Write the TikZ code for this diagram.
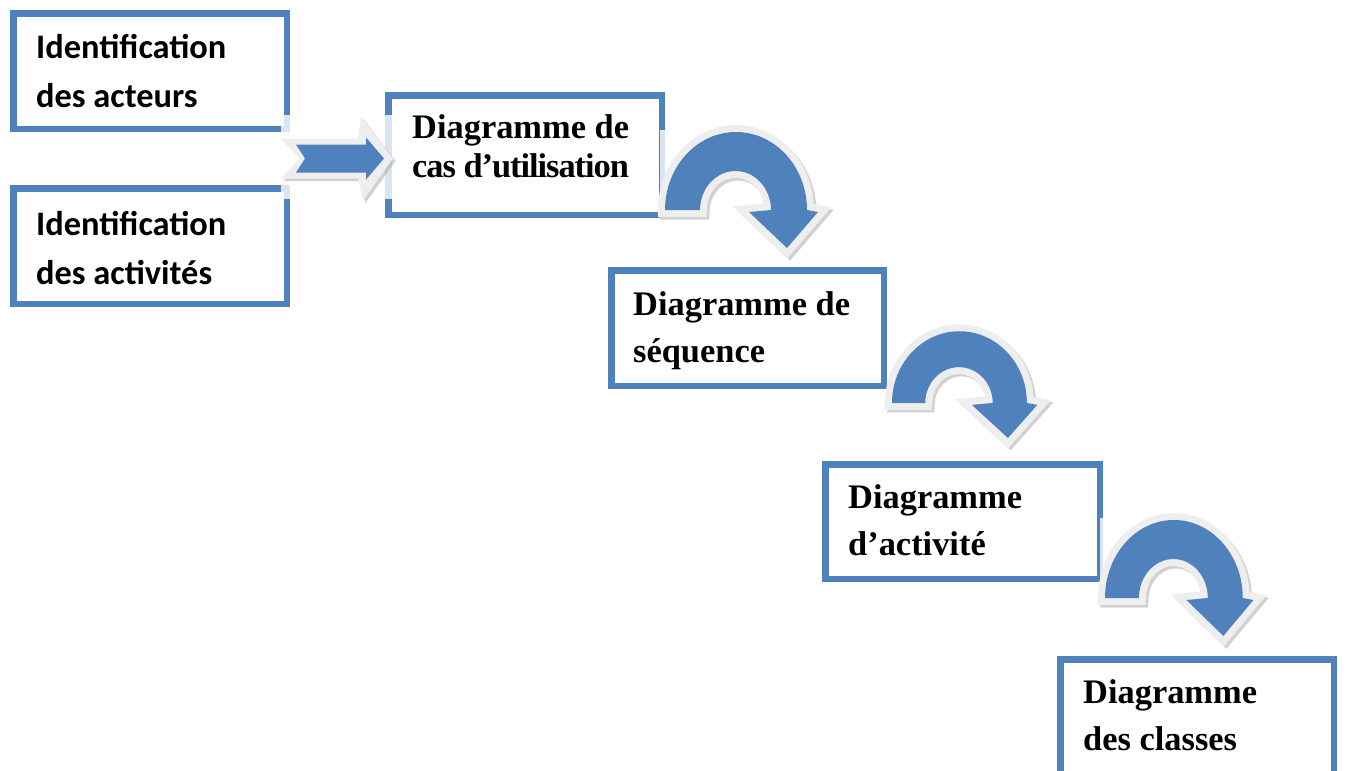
\documentclass[tikz,border=0pt]{standalone}
\usepackage{fontspec}
\setmainfont{Liberation Serif}
\newfontfamily\calib{Carlito}
\usetikzlibrary{calc}
\definecolor{boxblue}{HTML}{4F81BD}
\definecolor{rim}{HTML}{EEEEEE}
\definecolor{rimshade}{HTML}{9A9A9A}

\tikzset{
  stepbox/.style={draw=boxblue, line width=6.5, fill=white, inner sep=0,
    minimum width=273.5, minimum height=115.5},
  sanslabel/.style={anchor=base west, inner sep=0, align=left,
    font=\calib\fontsize{34.4}{49.5}\selectfont\bfseries},
  seriflabel/.style={anchor=base west, inner sep=0, align=left,
    font=\fontsize{34.4}{47}\selectfont\bfseries},
  haze/.style={fill=white, opacity=0.8},
  % curved "turn" arrow, origin at the outer foot of its left leg
  turn/.pic={
    \fill[haze] (-5,-80) rectangle (166,57);
    \path[fill=rimshade, draw=rimshade, line width=14, line join=miter, opacity=0.45,
      shift={(2.5,2.5)}]
      (0,0) arc[start angle=180, end angle=360, x radius=71, y radius=78]
      -- (153,2) -- (122,38) -- (84,2) -- (106,0)
      arc[start angle=360, end angle=180, x radius=35.5, y radius=39] -- cycle;
    \path[fill=rim, draw=rim, line width=14, line join=miter]
      (0,0) arc[start angle=180, end angle=360, x radius=71, y radius=78]
      -- (153,2) -- (122,38) -- (84,2) -- (106,0)
      arc[start angle=360, end angle=180, x radius=35.5, y radius=39] -- cycle;
    \fill[boxblue]
      (0,0) arc[start angle=180, end angle=360, x radius=71, y radius=78]
      -- (153,2) -- (122,38) -- (84,2) -- (106,0)
      arc[start angle=360, end angle=180, x radius=35.5, y radius=39] -- cycle;
  },
  % straight notched arrow, origin at the middle of its tail
  push/.pic={
    \fill[haze] (0,-44) rectangle (112,40);
    \fill[rimshade, opacity=0.45, shift={(2.5,2.5)}]
      (0,-20) -- (77,-20) -- (80,-42) -- (112,0) -- (82,42) -- (77,20)
      -- (0,20) -- (19,0) -- cycle;
    \fill[rim]
      (0,-20) -- (77,-20) -- (80,-42) -- (112,0) -- (82,42) -- (77,20)
      -- (0,20) -- (19,0) -- cycle;
    \fill[boxblue]
      (15,-14) -- (85,-14) -- (85,-21) -- (103,0) -- (85,21) -- (85,14)
      -- (15,14) -- (24,0) -- cycle;
  }
}

\begin{document}
\begin{tikzpicture}[x=1pt, y=-1pt]
  \fill[white] (0,0) rectangle (1347,771);
  \useasboundingbox (0,0) rectangle (1347,771);

  % boxes
  \node[stepbox] (b1) at (150,71) {};
  \node[stepbox] (b2) at (150,246) {};
  \node[stepbox, minimum height=119.5] (b3) at (525,155) {};
  \node[stepbox, minimum width=272.5] (b4) at (747.5,328) {};
  \node[stepbox, minimum width=274.5, minimum height=114.5] (b5) at (962.5,521.5) {};
  \node[stepbox] (b6) at (1197,717) {};

  % arrows between the steps
  \coordinate (p0) at ($(b1.south east)!0.5!(b2.north east)+(-9,0)$);
  \pic (a0) at (p0) {push};
  \coordinate (p1) at ($(b3.east)+(0,55)$);
  \pic (a1) at (p1) {turn};
  \coordinate (p2) at ($(b4.east)+(5,75)$);
  \pic[xscale=0.95, yscale=0.92] (a2) at (p2) {turn};
  \coordinate (p3) at ($(b5.east)+(2,76.5)$);
  \pic[xscale=0.97] (a3) at (p3) {turn};

  % labels (anchored on the baseline of their last line)
  \node[sanslabel] (t1) at ($(b1.north west)+(26,97.5)$) {Identification\\des acteurs};
  \node[sanslabel] (t2) at ($(b2.north west)+(26,99.5)$) {Identification\\des activités};
  \node[seriflabel, font=\fontsize{34.4}{39}\selectfont\bfseries] (t3)
    at ($(b3.north west)+(27,85)$)
    {Diagramme de\\{\addfontfeature{LetterSpace=-3}cas d’utilisation}};
  \node[seriflabel] (t4) at ($(b4.north west)+(25,95)$) {Diagramme de\\séquence};
  \node[seriflabel] (t5) at ($(b5.north west)+(26,94)$) {Diagramme\\d’activité};
  \node[seriflabel] (t6) at ($(b6.north west)+(26,94)$) {Diagramme\\des classes};
\end{tikzpicture}
\end{document}
